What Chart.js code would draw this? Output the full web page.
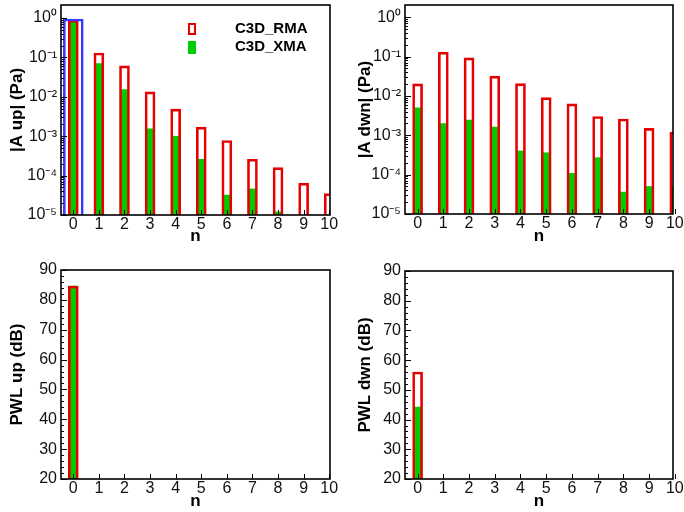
<!DOCTYPE html>
<html>
<head>
<meta charset="utf-8">
<script src="https://cdn.jsdelivr.net/npm/chart.js@4.4.0/dist/chart.umd.min.js"></script>
<style>
  body { margin: 0; background: #fff; }
  canvas { position: absolute; }
</style>
</head>
<body>
<canvas id="aUp" width="342" height="250" style="left:0;top:0"></canvas>
<canvas id="aDwn" width="342" height="250" style="left:342px;top:0"></canvas>
<canvas id="pwlUp" width="342" height="262" style="left:0;top:250px"></canvas>
<canvas id="pwlDwn" width="342" height="262" style="left:342px;top:250px"></canvas>
<script>
// mode number
const nValues = [0, 1, 2, 3, 4, 5, 6, 7, 8, 9, 10];

// |A up| (Pa)
const aUpRMA = [0.88, 0.13, 0.061, 0.0134, 0.0049, 0.0017, 0.00078, 0.00026, 0.00016, 6.4e-5, 3.5e-5];
const aUpXMA = [0.86, 0.07, 0.0154, 0.00154, 0.001, 0.00026, 3.2e-5, 4.6e-5, 1.2e-5, null, null];
const aUpSelected = [0.95, null, null, null, null, null, null, null, null, null, null];

// |A dwn| (Pa)
const aDwnRMA = [0.0203, 0.129, 0.093, 0.032, 0.0205, 0.0091, 0.0063, 0.003, 0.0026, 0.0015, 0.0012];
const aDwnXMA = [0.005, 0.002, 0.00245, 0.00163, 0.0004, 0.00036, 0.000108, 0.00027, 3.6e-5, 5.0e-5, 5.0e-5];

// PWL (dB)
const pwlUpRMA = [84.6, null, null, null, null, null, null, null, null, null, null];
const pwlUpXMA = [84.6, null, null, null, null, null, null, null, null, null, null];
const pwlDwnRMA = [56, null, null, null, null, null, null, null, null, null, null];
const pwlDwnXMA = [44.2, null, null, null, null, null, null, null, null, null, null];

// axis ticks
const logTicks = [1e-5, 1e-4, 1e-3, 1e-2, 1e-1, 1];
const logTickLabels = ["10\u207B\u2075", "10\u207B\u2074", "10\u207B\u00B3", "10\u207B\u00B2", "10\u207B\u00B9", "10\u2070"];
const pwlTicks = [20, 30, 40, 50, 60, 70, 80, 90];

// minor ticks for the left axes
const logMinor = [];
logTicks.slice(0, -1).forEach(d => { for (let k = 2; k <= 9; k++) logMinor.push(k * d); });
const pwlMinor = [];
for (let v = 22; v < 90; v += 2) if (v % 10 != 0) pwlMinor.push(v);

Chart.defaults.font.family = "'Liberation Sans', Arial, sans-serif";
Chart.defaults.color = "#111";

const RED = "#e60000";
const GREEN = "#00cc00";
const BLUE = "#3a3aff";

function pts(arr) {
  return nValues.map((n, i) => ({ x: n, y: arr[i] }));
}

// inward ticks + box frame (tecplot style)
const frameTicks = {
  id: "frameTicks",
  afterDatasetsDraw(chart, args, opts) {
    const { ctx, chartArea: a, scales: { x, y } } = chart;
    ctx.save();
    ctx.strokeStyle = "#000";
    ctx.lineWidth = 1;
    ctx.beginPath();
    x.ticks.forEach(t => {
      const px = Math.round(x.getPixelForValue(t.value)) + 0.5;
      ctx.moveTo(px, a.bottom);
      ctx.lineTo(px, a.bottom - 5);
    });
    y.ticks.forEach(t => {
      const py = Math.round(y.getPixelForValue(t.value)) + 0.5;
      ctx.moveTo(a.left, py);
      ctx.lineTo(a.left + 6, py);
    });
    (opts.minor || []).forEach(v => {
      const py = Math.round(y.getPixelForValue(v)) + 0.5;
      ctx.moveTo(a.left, py);
      ctx.lineTo(a.left + 3, py);
    });
    ctx.stroke();
    ctx.lineWidth = 1.6;
    ctx.strokeRect(a.left, a.top, a.right - a.left, a.bottom - a.top);
    ctx.restore();
  }
};

// legend drawn inside the plot
const insideLegend = {
  id: "insideLegend",
  afterDraw(chart, args, opts) {
    if (!opts.show) return;
    const ctx = chart.ctx;
    ctx.save();
    ctx.font = "bold 15px 'Liberation Sans', Arial, sans-serif";
    ctx.textBaseline = "middle";
    ctx.fillStyle = "#000";
    chart.data.datasets.filter(d => d.inLegend).forEach((d, i) => {
      const yc = opts.y + i * opts.gap;
      if (d.borderWidth > 0) {
        ctx.strokeStyle = d.borderColor;
        ctx.lineWidth = 2;
        ctx.strokeRect(opts.x + 1, yc - 5, 6, 10);
      } else {
        ctx.fillStyle = d.backgroundColor;
        ctx.fillRect(opts.x, yc - 6, 8, 13);
      }
      ctx.fillStyle = "#000";
      ctx.fillText(d.label, opts.textX, yc);
    });
    ctx.restore();
  }
};

function makeChart(id, cfg) {
  const datasets = [
    {
      label: "C3D_RMA", inLegend: true, data: pts(cfg.rma), grouped: false,
      backgroundColor: "rgba(0,0,0,0)", borderColor: RED, borderWidth: 2, barThickness: 10
    },
    {
      label: "C3D_XMA", inLegend: true, data: pts(cfg.xma), grouped: false,
      backgroundColor: GREEN, borderWidth: 0, barThickness: 8
    }
  ];
  if (cfg.selected) {
    datasets.unshift({
      label: "selected", data: pts(cfg.selected), grouped: false,
      backgroundColor: "rgba(0,0,0,0)", borderColor: BLUE, borderWidth: 2, barThickness: 20
    });
  }
  const yScale = cfg.log
    ? {
        type: "logarithmic", min: 1e-5, max: cfg.yMax,
        afterBuildTicks: s => { s.ticks = logTicks.map(v => ({ value: v })); },
        ticks: { callback: v => logTickLabels[logTicks.indexOf(v)], font: { size: 16 }, padding: 4 }
      }
    : {
        type: "linear", min: 20, max: 90,
        afterBuildTicks: s => { s.ticks = pwlTicks.map(v => ({ value: v })); },
        ticks: { font: { size: 16 }, padding: 4 }
      };
  yScale.grid = { display: false, drawTicks: false };
  yScale.border = { display: false };
  yScale.title = {
    display: true, text: cfg.yTitle, font: { size: 17, weight: "bold" },
    color: "#000", padding: { top: cfg.titlePad, bottom: 0 }
  };
  yScale.afterFit = s => {
    s.width = cfg.yWidth;
    s.paddingTop = 0; s.paddingBottom = 0;
  };

  return new Chart(document.getElementById(id), {
    type: "bar",
    data: { datasets },
    plugins: [frameTicks, insideLegend],
    options: {
      responsive: false,
      animation: false,
      layout: { padding: { top: cfg.top, right: cfg.right, left: 0, bottom: 0 } },
      scales: {
        x: {
          type: "linear", min: cfg.xMin, max: cfg.xMax, offset: false,
          afterBuildTicks: s => { s.ticks = nValues.map(v => ({ value: v })); },
          ticks: { font: { size: 16 }, padding: 0, maxRotation: 0, autoSkip: false },
          grid: { display: false, drawTicks: false, offset: false },
          border: { display: false },
          title: {
            display: true, text: "n", font: { size: 17, weight: "bold" },
            color: "#000", padding: { top: 0, bottom: cfg.nPad }
          },
          afterFit: s => {
            s.height = cfg.xHeight;
            s.paddingLeft = 0; s.paddingRight = 0;
          }
        },
        y: yScale
      },
      plugins: {
        legend: { display: false },
        tooltip: { enabled: false },
        frameTicks: { minor: cfg.log ? logMinor : pwlMinor },
        insideLegend: cfg.legend ? { show: true, x: 188, textX: 235, y: 29, gap: 18 } : { show: false }
      }
    }
  });
}

makeChart("aUp", {
  rma: aUpRMA, xma: aUpXMA, selected: aUpSelected, log: true, yMax: 2.15,
  yTitle: "|A up| (Pa)", yWidth: 61, titlePad: 7, top: 5, right: 12, xHeight: 35, nPad: 3,
  xMin: -0.48, xMax: 10.03, legend: true
});
makeChart("aDwn", {
  rma: aDwnRMA, xma: aDwnXMA, log: true, yMax: 2.05,
  yTitle: "|A dwn| (Pa)", yWidth: 63, titlePad: 13, top: 5, right: 11, xHeight: 36, nPad: 3,
  xMin: -0.49, xMax: 9.93
});
makeChart("pwlUp", {
  rma: pwlUpRMA, xma: pwlUpXMA, log: false,
  yTitle: "PWL up (dB)", yWidth: 61, titlePad: 7, top: 20, right: 12, xHeight: 33, nPad: 0,
  xMin: -0.48, xMax: 10.03
});
makeChart("pwlDwn", {
  rma: pwlDwnRMA, xma: pwlDwnXMA, log: false,
  yTitle: "PWL dwn (dB)", yWidth: 63, titlePad: 13, top: 21, right: 11, xHeight: 33, nPad: 0,
  xMin: -0.49, xMax: 9.93
});
</script>
</body>
</html>
